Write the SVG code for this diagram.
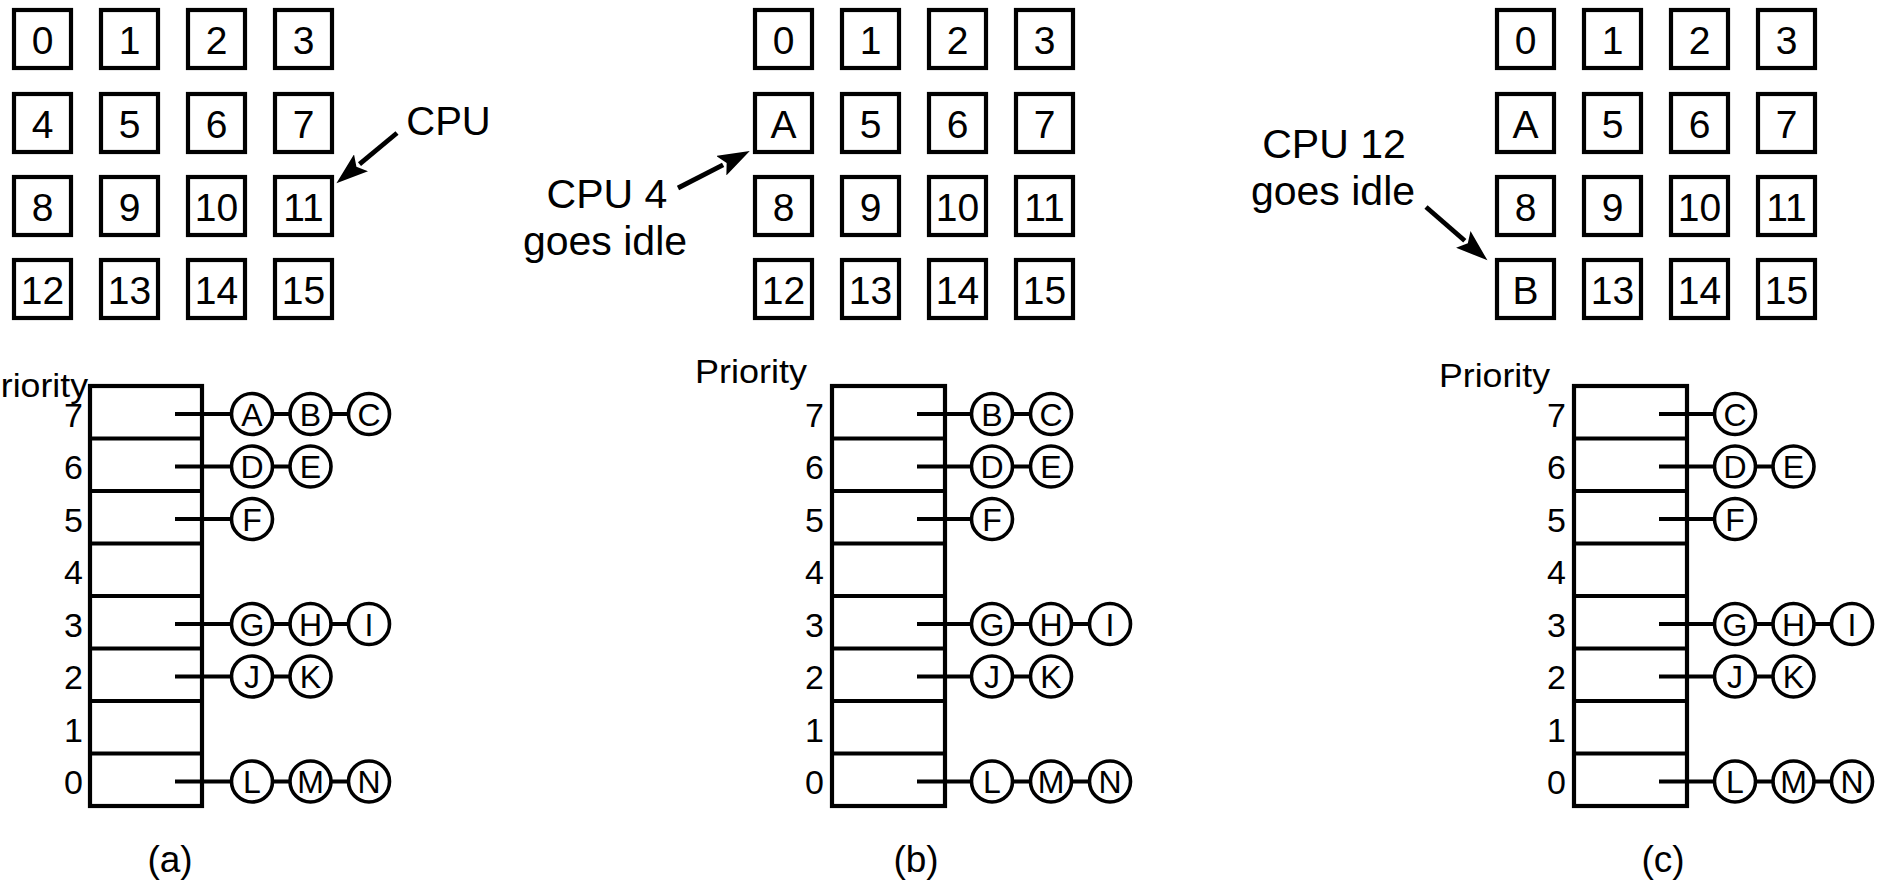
<svg xmlns="http://www.w3.org/2000/svg" width="1887" height="882" viewBox="0 0 1887 882">
<style>
text{font-family:"Liberation Sans",Arial,sans-serif;fill:#000}
.cell{fill:#fff;stroke:#000;stroke-width:4.2}
.cn{font-size:39px;text-anchor:middle}
.tbl{fill:#fff;stroke:#000;stroke-width:4.2}
.div{stroke:#000;stroke-width:4.2}
.rl{font-size:34px;text-anchor:end}
.pr{font-size:33px}
.ptr{stroke:#000;stroke-width:3.8;fill:none}
.nd{fill:#fff;stroke:#000;stroke-width:3.6}
.nl{font-size:32px;text-anchor:middle}
.arr{stroke:#000;stroke-width:4.8;fill:none;marker-end:url(#ah)}
.lbl{font-size:41px;text-anchor:middle}
.cap{font-size:37px;text-anchor:middle}
</style>
<defs>
<marker id="ah" markerUnits="userSpaceOnUse" markerWidth="34" markerHeight="22" viewBox="0 0 34 22" refX="2" refY="11" orient="auto">
<path d="M0,0 L32,11 L0,22 L6,11 z" fill="#000"/>
</marker>
</defs>
<rect width="1887" height="882" fill="#fff"/>

<!-- Panel (a) grid -->
<g id="a-grid">
<g id="a-c0"><rect class="cell" x="14" y="10" width="57" height="58"/><text class="cn" x="42.5" y="53.5">0</text></g>
<g id="a-c1"><rect class="cell" x="101" y="10" width="57" height="58"/><text class="cn" x="129.5" y="53.5">1</text></g>
<g id="a-c2"><rect class="cell" x="188" y="10" width="57" height="58"/><text class="cn" x="216.5" y="53.5">2</text></g>
<g id="a-c3"><rect class="cell" x="275" y="10" width="57" height="58"/><text class="cn" x="303.5" y="53.5">3</text></g>
<g id="a-c4"><rect class="cell" x="14" y="94" width="57" height="58"/><text class="cn" x="42.5" y="137.5">4</text></g>
<g id="a-c5"><rect class="cell" x="101" y="94" width="57" height="58"/><text class="cn" x="129.5" y="137.5">5</text></g>
<g id="a-c6"><rect class="cell" x="188" y="94" width="57" height="58"/><text class="cn" x="216.5" y="137.5">6</text></g>
<g id="a-c7"><rect class="cell" x="275" y="94" width="57" height="58"/><text class="cn" x="303.5" y="137.5">7</text></g>
<g id="a-c8"><rect class="cell" x="14" y="177" width="57" height="58"/><text class="cn" x="42.5" y="220.5">8</text></g>
<g id="a-c9"><rect class="cell" x="101" y="177" width="57" height="58"/><text class="cn" x="129.5" y="220.5">9</text></g>
<g id="a-c10"><rect class="cell" x="188" y="177" width="57" height="58"/><text class="cn" x="216.5" y="220.5">10</text></g>
<g id="a-c11"><rect class="cell" x="275" y="177" width="57" height="58"/><text class="cn" x="303.5" y="220.5">11</text></g>
<g id="a-c12"><rect class="cell" x="14" y="260" width="57" height="58"/><text class="cn" x="42.5" y="303.5">12</text></g>
<g id="a-c13"><rect class="cell" x="101" y="260" width="57" height="58"/><text class="cn" x="129.5" y="303.5">13</text></g>
<g id="a-c14"><rect class="cell" x="188" y="260" width="57" height="58"/><text class="cn" x="216.5" y="303.5">14</text></g>
<g id="a-c15"><rect class="cell" x="275" y="260" width="57" height="58"/><text class="cn" x="303.5" y="303.5">15</text></g>
</g>
<g id="a-cpu-label"><text class="lbl" x="448.5" y="135" style="font-size:40px">CPU</text></g>

<!-- Panel (b) grid -->
<g id="b-grid">
<g id="b-c0"><rect class="cell" x="755" y="10" width="57" height="58"/><text class="cn" x="783.5" y="53.5">0</text></g>
<g id="b-c1"><rect class="cell" x="842" y="10" width="57" height="58"/><text class="cn" x="870.5" y="53.5">1</text></g>
<g id="b-c2"><rect class="cell" x="929" y="10" width="57" height="58"/><text class="cn" x="957.5" y="53.5">2</text></g>
<g id="b-c3"><rect class="cell" x="1016" y="10" width="57" height="58"/><text class="cn" x="1044.5" y="53.5">3</text></g>
<g id="b-c4"><rect class="cell" x="755" y="94" width="57" height="58"/><text class="cn" x="783.5" y="137.5">A</text></g>
<g id="b-c5"><rect class="cell" x="842" y="94" width="57" height="58"/><text class="cn" x="870.5" y="137.5">5</text></g>
<g id="b-c6"><rect class="cell" x="929" y="94" width="57" height="58"/><text class="cn" x="957.5" y="137.5">6</text></g>
<g id="b-c7"><rect class="cell" x="1016" y="94" width="57" height="58"/><text class="cn" x="1044.5" y="137.5">7</text></g>
<g id="b-c8"><rect class="cell" x="755" y="177" width="57" height="58"/><text class="cn" x="783.5" y="220.5">8</text></g>
<g id="b-c9"><rect class="cell" x="842" y="177" width="57" height="58"/><text class="cn" x="870.5" y="220.5">9</text></g>
<g id="b-c10"><rect class="cell" x="929" y="177" width="57" height="58"/><text class="cn" x="957.5" y="220.5">10</text></g>
<g id="b-c11"><rect class="cell" x="1016" y="177" width="57" height="58"/><text class="cn" x="1044.5" y="220.5">11</text></g>
<g id="b-c12"><rect class="cell" x="755" y="260" width="57" height="58"/><text class="cn" x="783.5" y="303.5">12</text></g>
<g id="b-c13"><rect class="cell" x="842" y="260" width="57" height="58"/><text class="cn" x="870.5" y="303.5">13</text></g>
<g id="b-c14"><rect class="cell" x="929" y="260" width="57" height="58"/><text class="cn" x="957.5" y="303.5">14</text></g>
<g id="b-c15"><rect class="cell" x="1016" y="260" width="57" height="58"/><text class="cn" x="1044.5" y="303.5">15</text></g>
</g>
<g id="b-cpu-label"><text class="lbl" x="607" y="208">CPU 4</text><text class="lbl" x="605" y="255">goes idle</text></g>

<!-- Panel (c) grid -->
<g id="c-grid">
<g id="c-c0"><rect class="cell" x="1497" y="10" width="57" height="58"/><text class="cn" x="1525.5" y="53.5">0</text></g>
<g id="c-c1"><rect class="cell" x="1584" y="10" width="57" height="58"/><text class="cn" x="1612.5" y="53.5">1</text></g>
<g id="c-c2"><rect class="cell" x="1671" y="10" width="57" height="58"/><text class="cn" x="1699.5" y="53.5">2</text></g>
<g id="c-c3"><rect class="cell" x="1758" y="10" width="57" height="58"/><text class="cn" x="1786.5" y="53.5">3</text></g>
<g id="c-c4"><rect class="cell" x="1497" y="94" width="57" height="58"/><text class="cn" x="1525.5" y="137.5">A</text></g>
<g id="c-c5"><rect class="cell" x="1584" y="94" width="57" height="58"/><text class="cn" x="1612.5" y="137.5">5</text></g>
<g id="c-c6"><rect class="cell" x="1671" y="94" width="57" height="58"/><text class="cn" x="1699.5" y="137.5">6</text></g>
<g id="c-c7"><rect class="cell" x="1758" y="94" width="57" height="58"/><text class="cn" x="1786.5" y="137.5">7</text></g>
<g id="c-c8"><rect class="cell" x="1497" y="177" width="57" height="58"/><text class="cn" x="1525.5" y="220.5">8</text></g>
<g id="c-c9"><rect class="cell" x="1584" y="177" width="57" height="58"/><text class="cn" x="1612.5" y="220.5">9</text></g>
<g id="c-c10"><rect class="cell" x="1671" y="177" width="57" height="58"/><text class="cn" x="1699.5" y="220.5">10</text></g>
<g id="c-c11"><rect class="cell" x="1758" y="177" width="57" height="58"/><text class="cn" x="1786.5" y="220.5">11</text></g>
<g id="c-c12"><rect class="cell" x="1497" y="260" width="57" height="58"/><text class="cn" x="1525.5" y="303.5">B</text></g>
<g id="c-c13"><rect class="cell" x="1584" y="260" width="57" height="58"/><text class="cn" x="1612.5" y="303.5">13</text></g>
<g id="c-c14"><rect class="cell" x="1671" y="260" width="57" height="58"/><text class="cn" x="1699.5" y="303.5">14</text></g>
<g id="c-c15"><rect class="cell" x="1758" y="260" width="57" height="58"/><text class="cn" x="1786.5" y="303.5">15</text></g>
</g>
<g id="c-cpu-label"><text class="lbl" x="1334" y="158">CPU 12</text><text class="lbl" x="1333" y="205">goes idle</text></g>

<!-- Priority tables -->
<g id="a-table">
<rect class="tbl" x="90" y="386" width="112" height="420"/>
<path class="div" d="M90,438.5H202M90,491H202M90,543.5H202M90,596H202M90,648.5H202M90,701H202M90,753.5H202"/>
<text class="pr" x="-23" y="397" textLength="111" lengthAdjust="spacingAndGlyphs">Priority</text>
<text class="rl" x="83" y="426.5">7</text><text class="rl" x="83" y="479">6</text><text class="rl" x="83" y="531.5">5</text><text class="rl" x="83" y="584">4</text>
<text class="rl" x="83" y="636.5">3</text><text class="rl" x="83" y="689">2</text><text class="rl" x="83" y="741.5">1</text><text class="rl" x="83" y="794">0</text>
</g>
<g id="b-table">
<rect class="tbl" x="832" y="386" width="113" height="420"/>
<path class="div" d="M832,438.5H945M832,491H945M832,543.5H945M832,596H945M832,648.5H945M832,701H945M832,753.5H945"/>
<text class="pr" x="695" y="383" textLength="112" lengthAdjust="spacingAndGlyphs">Priority</text>
<text class="rl" x="824" y="426.5">7</text><text class="rl" x="824" y="479">6</text><text class="rl" x="824" y="531.5">5</text><text class="rl" x="824" y="584">4</text>
<text class="rl" x="824" y="636.5">3</text><text class="rl" x="824" y="689">2</text><text class="rl" x="824" y="741.5">1</text><text class="rl" x="824" y="794">0</text>
</g>
<g id="c-table">
<rect class="tbl" x="1574" y="386" width="113" height="420"/>
<path class="div" d="M1574,438.5H1687M1574,491H1687M1574,543.5H1687M1574,596H1687M1574,648.5H1687M1574,701H1687M1574,753.5H1687"/>
<text class="pr" x="1439" y="387" textLength="111" lengthAdjust="spacingAndGlyphs">Priority</text>
<text class="rl" x="1566" y="426.5">7</text><text class="rl" x="1566" y="479">6</text><text class="rl" x="1566" y="531.5">5</text><text class="rl" x="1566" y="584">4</text>
<text class="rl" x="1566" y="636.5">3</text><text class="rl" x="1566" y="689">2</text><text class="rl" x="1566" y="741.5">1</text><text class="rl" x="1566" y="794">0</text>
</g>

<!-- Connectors -->
<g id="connectors">
<path class="arr" d="M397,133L359.5,164.1"/>
<path class="arr" d="M678,188L723.1,164.8"/>
<path class="arr" d="M1426,207L1464.8,240.7"/>
<path class="ptr" d="M175,414H369M175,466.5H310.5M175,519H252M175,624H369M175,676.5H310.5M175,781.5H369"/>
<path class="ptr" d="M917,414H1051M917,466.5H1051M917,519H992M917,624H1110M917,676.5H1051M917,781.5H1110"/>
<path class="ptr" d="M1659,414H1735M1659,466.5H1793.5M1659,519H1735M1659,624H1852M1659,676.5H1793.5M1659,781.5H1852"/>
</g>

<!-- Process nodes (a) -->
<g id="a-A"><circle class="nd" cx="252" cy="414" r="20.5"/><text class="nl" x="252" y="425.5">A</text></g>
<g id="a-B"><circle class="nd" cx="310.5" cy="414" r="20.5"/><text class="nl" x="310.5" y="425.5">B</text></g>
<g id="a-C"><circle class="nd" cx="369" cy="414" r="20.5"/><text class="nl" x="369" y="425.5">C</text></g>
<g id="a-D"><circle class="nd" cx="252" cy="466.5" r="20.5"/><text class="nl" x="252" y="478">D</text></g>
<g id="a-E"><circle class="nd" cx="310.5" cy="466.5" r="20.5"/><text class="nl" x="310.5" y="478">E</text></g>
<g id="a-F"><circle class="nd" cx="252" cy="519" r="20.5"/><text class="nl" x="252" y="530.5">F</text></g>
<g id="a-G"><circle class="nd" cx="252" cy="624" r="20.5"/><text class="nl" x="252" y="635.5">G</text></g>
<g id="a-H"><circle class="nd" cx="310.5" cy="624" r="20.5"/><text class="nl" x="310.5" y="635.5">H</text></g>
<g id="a-I"><circle class="nd" cx="369" cy="624" r="20.5"/><text class="nl" x="369" y="635.5">I</text></g>
<g id="a-J"><circle class="nd" cx="252" cy="676.5" r="20.5"/><text class="nl" x="252" y="688">J</text></g>
<g id="a-K"><circle class="nd" cx="310.5" cy="676.5" r="20.5"/><text class="nl" x="310.5" y="688">K</text></g>
<g id="a-L"><circle class="nd" cx="252" cy="781.5" r="20.5"/><text class="nl" x="252" y="793">L</text></g>
<g id="a-M"><circle class="nd" cx="310.5" cy="781.5" r="20.5"/><text class="nl" x="310.5" y="793">M</text></g>
<g id="a-N"><circle class="nd" cx="369" cy="781.5" r="20.5"/><text class="nl" x="369" y="793">N</text></g>

<!-- Process nodes (b) -->
<g id="b-B"><circle class="nd" cx="992" cy="414" r="20.5"/><text class="nl" x="992" y="425.5">B</text></g>
<g id="b-C"><circle class="nd" cx="1051" cy="414" r="20.5"/><text class="nl" x="1051" y="425.5">C</text></g>
<g id="b-D"><circle class="nd" cx="992" cy="466.5" r="20.5"/><text class="nl" x="992" y="478">D</text></g>
<g id="b-E"><circle class="nd" cx="1051" cy="466.5" r="20.5"/><text class="nl" x="1051" y="478">E</text></g>
<g id="b-F"><circle class="nd" cx="992" cy="519" r="20.5"/><text class="nl" x="992" y="530.5">F</text></g>
<g id="b-G"><circle class="nd" cx="992" cy="624" r="20.5"/><text class="nl" x="992" y="635.5">G</text></g>
<g id="b-H"><circle class="nd" cx="1051" cy="624" r="20.5"/><text class="nl" x="1051" y="635.5">H</text></g>
<g id="b-I"><circle class="nd" cx="1110" cy="624" r="20.5"/><text class="nl" x="1110" y="635.5">I</text></g>
<g id="b-J"><circle class="nd" cx="992" cy="676.5" r="20.5"/><text class="nl" x="992" y="688">J</text></g>
<g id="b-K"><circle class="nd" cx="1051" cy="676.5" r="20.5"/><text class="nl" x="1051" y="688">K</text></g>
<g id="b-L"><circle class="nd" cx="992" cy="781.5" r="20.5"/><text class="nl" x="992" y="793">L</text></g>
<g id="b-M"><circle class="nd" cx="1051" cy="781.5" r="20.5"/><text class="nl" x="1051" y="793">M</text></g>
<g id="b-N"><circle class="nd" cx="1110" cy="781.5" r="20.5"/><text class="nl" x="1110" y="793">N</text></g>

<!-- Process nodes (c) -->
<g id="c-C"><circle class="nd" cx="1735" cy="414" r="20.5"/><text class="nl" x="1735" y="425.5">C</text></g>
<g id="c-D"><circle class="nd" cx="1735" cy="466.5" r="20.5"/><text class="nl" x="1735" y="478">D</text></g>
<g id="c-E"><circle class="nd" cx="1793.5" cy="466.5" r="20.5"/><text class="nl" x="1793.5" y="478">E</text></g>
<g id="c-F"><circle class="nd" cx="1735" cy="519" r="20.5"/><text class="nl" x="1735" y="530.5">F</text></g>
<g id="c-G"><circle class="nd" cx="1735" cy="624" r="20.5"/><text class="nl" x="1735" y="635.5">G</text></g>
<g id="c-H"><circle class="nd" cx="1793.5" cy="624" r="20.5"/><text class="nl" x="1793.5" y="635.5">H</text></g>
<g id="c-I"><circle class="nd" cx="1852" cy="624" r="20.5"/><text class="nl" x="1852" y="635.5">I</text></g>
<g id="c-J"><circle class="nd" cx="1735" cy="676.5" r="20.5"/><text class="nl" x="1735" y="688">J</text></g>
<g id="c-K"><circle class="nd" cx="1793.5" cy="676.5" r="20.5"/><text class="nl" x="1793.5" y="688">K</text></g>
<g id="c-L"><circle class="nd" cx="1735" cy="781.5" r="20.5"/><text class="nl" x="1735" y="793">L</text></g>
<g id="c-M"><circle class="nd" cx="1793.5" cy="781.5" r="20.5"/><text class="nl" x="1793.5" y="793">M</text></g>
<g id="c-N"><circle class="nd" cx="1852" cy="781.5" r="20.5"/><text class="nl" x="1852" y="793">N</text></g>

<!-- Captions -->
<g id="captions">
<text class="cap" x="170" y="872">(a)</text>
<text class="cap" x="916" y="872">(b)</text>
<text class="cap" x="1663" y="872">(c)</text>
</g>
</svg>
